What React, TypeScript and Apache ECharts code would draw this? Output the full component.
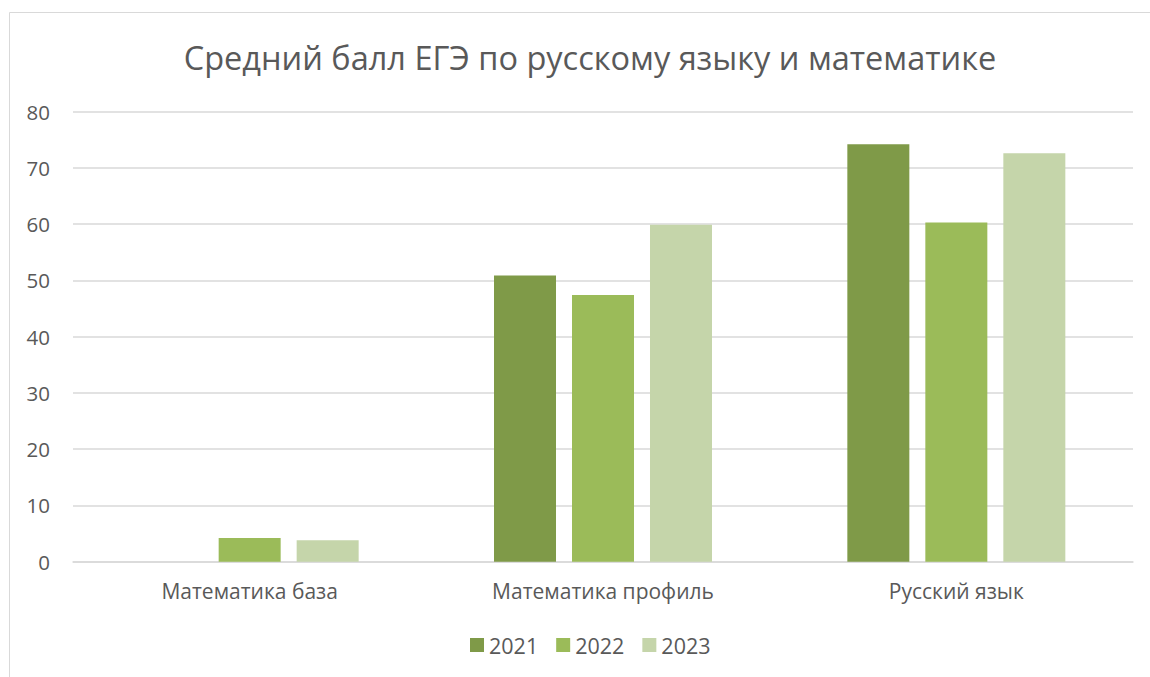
import React, { useEffect, useRef } from "react";
import * as echarts from "echarts";

const categories = ["Математика база", "Математика профиль", "Русский язык"];
const seriesNames = ["2021", "2022", "2023"];
const values2021: (number | null)[] = [null, 50.9, 74.2];
const values2022: (number | null)[] = [4.2, 47.4, 60.3];
const values2023: (number | null)[] = [3.8, 59.9, 72.6];
const colors = ["#7F9A48", "#9BBB59", "#C5D5AA"];
const titleText = "Средний балл ЕГЭ по русскому языку и математике";

export default function App() {
  const ref = useRef<HTMLDivElement>(null);
  useEffect(() => {
    if (!ref.current) return;
    const chart = echarts.init(ref.current, null, { renderer: "svg" });
    const font = "'Open Sans', 'Noto Sans', sans-serif";
    const data = [values2021, values2022, values2023];
    chart.setOption({
      animation: false,
      textStyle: { fontFamily: font, color: "#595959" },
      title: {
        text: titleText,
        left: 585,
        top: 36,
        textAlign: "center",
        textStyle: { fontFamily: font, fontSize: 32.5, fontWeight: "normal", color: "#595959" },
      },
      graphic: [
        {
          type: "rect",
          shape: { x: 9.5, y: 12.5, width: 1300, height: 900 },
          style: { fill: "none", stroke: "#D9D9D9", lineWidth: 1 },
          silent: true,
          z: -10,
        },
      ],
      legend: {
        data: seriesNames,
        bottom: 16,
        left: 465,
        itemWidth: 14,
        itemHeight: 14,
        itemGap: 18,
        itemStyle: { borderWidth: 0 },
        icon: "rect",
        textStyle: { fontFamily: font, fontSize: 21.5, color: "#595959" },
      },
      grid: { left: 73, right: 17, top: 111.7, bottom: 115.3, containLabel: false },
      xAxis: {
        type: "category",
        data: categories,
        axisLine: { show: true, lineStyle: { color: "#D9D9D9", width: 1.5 } },
        axisTick: { show: false },
        axisLabel: { fontFamily: font, fontSize: 21, color: "#595959", margin: 19 },
      },
      yAxis: {
        type: "value",
        min: 0,
        max: 80,
        interval: 10,
        axisLine: { show: false },
        axisTick: { show: false },
        axisLabel: { fontFamily: font, fontSize: 20.5, color: "#595959", margin: 23 },
        splitLine: { lineStyle: { color: "#D9D9D9", width: 1.5 } },
      },
      series: seriesNames.map((name, i) => ({
        name,
        type: "bar",
        data: data[i],
        barWidth: 62,
        barGap: "25.8%",
        itemStyle: { color: colors[i] },
      })),
    });
    return () => chart.dispose();
  }, []);
  return (
    <div
      ref={ref}
      style={{ position: "fixed", left: 0, top: 0, width: 1150, height: 677, background: "#fff" }}
    />
  );
}
